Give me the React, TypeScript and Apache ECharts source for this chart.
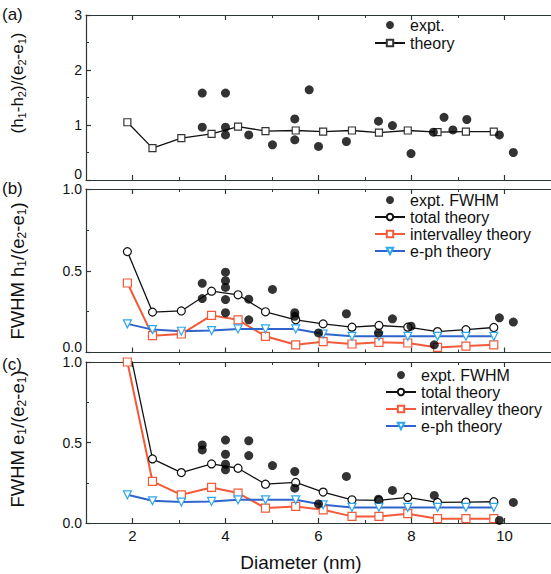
import React, { useEffect, useRef } from "react";
import * as echarts from "echarts";

// shared diameters of theory points (nm)
const theoryX = [1.89, 2.43, 3.05, 3.7, 4.27, 4.86, 5.51, 6.1, 6.72, 7.3, 7.92, 8.56, 9.17, 9.77];

// panel (a)
const ratioTheory = [1.05, 0.58, 0.76, 0.84, 0.97, 0.89, 0.9, 0.88, 0.9, 0.86, 0.9, 0.87, 0.88, 0.88];
const ratioExptX = [3.5, 3.5, 4, 4, 4, 4.5, 5.01, 5.49, 5.49, 5.8, 6, 6.6, 7.29, 7.59, 7.99, 8.47, 8.7, 8.89, 9.19, 9.89, 10.19];
const ratioExptY = [1.58, 0.96, 1.58, 0.96, 0.82, 0.82, 0.64, 1.11, 0.73, 1.64, 0.61, 0.7, 1.07, 0.99, 0.48, 0.87, 1.14, 0.91, 1.1, 0.82, 0.5];

// panel (b)
const hTotal = [0.617, 0.247, 0.254, 0.375, 0.353, 0.249, 0.2, 0.175, 0.155, 0.165, 0.155, 0.128, 0.14, 0.153];
const hInter = [0.425, 0.103, 0.113, 0.227, 0.2, 0.099, 0.047, 0.066, 0.052, 0.062, 0.058, 0.031, 0.039, 0.047];
const hEph = [0.175, 0.14, 0.13, 0.134, 0.144, 0.144, 0.144, 0.113, 0.099, 0.099, 0.099, 0.099, 0.099, 0.099];
const hExptX = [3.5, 3.5, 4, 4, 4, 4, 4, 4.5, 4.5, 5.01, 5.49, 5.49, 6, 6.6, 7.29, 7.59, 7.99, 8.49, 9.89, 10.19];
const hExptY = [0.423, 0.33, 0.491, 0.439, 0.398, 0.324, 0.243, 0.326, 0.2, 0.386, 0.243, 0.221, 0.12, 0.237, 0.12, 0.206, 0.161, 0.047, 0.212, 0.186];

// panel (c)
const eTotal = [1.14, 0.398, 0.313, 0.367, 0.34, 0.241, 0.252, 0.192, 0.144, 0.14, 0.159, 0.128, 0.13, 0.132];
const eInter = [1.0, 0.258, 0.175, 0.221, 0.186, 0.093, 0.103, 0.082, 0.041, 0.041, 0.058, 0.027, 0.027, 0.027];
const eEph = [0.175, 0.138, 0.13, 0.134, 0.144, 0.144, 0.144, 0.113, 0.097, 0.097, 0.097, 0.097, 0.097, 0.097];
const eExptX = [3.5, 3.5, 4, 4, 4, 4, 4.5, 4.5, 5.01, 5.49, 5.49, 6, 6.6, 7.29, 7.59, 8.49, 9.89, 10.19];
const eExptY = [0.485, 0.454, 0.515, 0.427, 0.365, 0.33, 0.511, 0.419, 0.357, 0.32, 0.216, 0.118, 0.289, 0.148, 0.202, 0.171, 0.016, 0.128];

const xMajorTicks = [2, 4, 6, 8, 10];
const xMinorTicks = [3, 5, 7, 9];
const panelLabels = ["(a)", "(b)", "(c)"];
const xTitle = "Diameter (nm)";
const legendA = ["expt.", "theory"];
const legendBC = ["expt. FWHM", "total theory", "intervalley theory", "e-ph theory"];

const FONT = "'Liberation Sans', Arial, Helvetica, sans-serif";
const AXIS = "#2d3535";
const RED = "#f25a3a";
const BLUE = "#3064cc";
const CYAN = "#2fa8ee";

const zip = (xs: number[], ys: number[]) => xs.map((x, i) => [x, ys[i]]);

export default function App() {
  const ref = useRef<HTMLDivElement>(null);
  useEffect(() => {
    document.body.style.margin = "0";
    const chart = echarts.init(ref.current!, null, { renderer: "svg" });

    const grids = [
      { left: 86, top: 15, width: 470, height: 165 },
      { left: 86, top: 189, width: 470, height: 163.5 },
      { left: 86, top: 362, width: 470, height: 161 },
    ];

    const xAxes: any[] = [];
    grids.forEach((_, i) => {
      const base = {
        gridIndex: i,
        type: "value",
        min: 1,
        max: 11,
        splitLine: { show: false },
      };
      xAxes.push({
        ...base,
        position: "bottom",
        axisLine: { show: true, onZero: false, lineStyle: { color: AXIS, width: 1.2 } },
        axisTick: { show: true, inside: true, length: 5, customValues: xMajorTicks, lineStyle: { color: AXIS, width: 1.2 } },
        axisLabel: {
          show: i === 2,
          customValues: xMajorTicks,
          margin: 5,
          fontSize: 15,
          color: "#111",
          fontFamily: FONT,
        },
      });
      xAxes.push({
        ...base,
        position: "top",
        axisLine: { show: true, onZero: false, lineStyle: { color: AXIS, width: 1.2 } },
        axisTick: { show: true, inside: true, length: 5, customValues: xMajorTicks, lineStyle: { color: AXIS, width: 1.2 } },
        axisLabel: { show: false },
      });
      xAxes.push({
        ...base,
        position: "bottom",
        axisLine: { show: false, onZero: false },
        axisTick: { show: true, inside: true, length: 3, customValues: xMinorTicks, lineStyle: { color: AXIS, width: 1 } },
        axisLabel: { show: false },
      });
      xAxes.push({
        ...base,
        position: "top",
        axisLine: { show: false, onZero: false },
        axisTick: { show: true, inside: true, length: 3, customValues: xMinorTicks, lineStyle: { color: AXIS, width: 1 } },
        axisLabel: { show: false },
      });
    });

    const yBase = (i: number, max: number, interval: number, fmt: (v: number) => string, liftMin: boolean) => ({
      gridIndex: i,
      type: "value",
      min: 0,
      max,
      interval,
      position: "left",
      splitLine: { show: false },
      axisLine: { show: true, onZero: false, lineStyle: { color: AXIS, width: 1.2 } },
      axisTick: { show: true, inside: true, length: 5, lineStyle: { color: AXIS, width: 1.2 } },
      minorTick: { show: true, splitNumber: 2, length: 3, lineStyle: { color: AXIS, width: 1 } },
      axisLabel: {
        margin: 4,
        fontSize: 14,
        lineHeight: 12,
        color: "#111",
        fontFamily: FONT,
        formatter: fmt,
        verticalAlignMinLabel: liftMin ? "bottom" : "middle",
      },
    });
    const yAxes = [
      yBase(0, 3, 1, (v) => String(v), true),
      yBase(1, 1, 0.5, (v) => v.toFixed(1), true),
      yBase(2, 1, 0.5, (v) => v.toFixed(1), false),
    ];

    const scatter = (name: string, idx: number, data: number[][]) => ({
      name,
      type: "scatter",
      xAxisIndex: idx * 4,
      yAxisIndex: idx,
      data,
      symbol: "circle",
      symbolSize: 9,
      itemStyle: { color: "#000" },
      z: 5,
    });
    const line = (
      name: string,
      idx: number,
      ys: number[],
      color: string,
      width: number,
      symbol: string,
      markColor: string,
      rotate = 0,
      size = 8
    ) => ({
      name,
      type: "line",
      xAxisIndex: idx * 4,
      yAxisIndex: idx,
      data: zip(theoryX, ys),
      symbol,
      symbolSize: size,
      symbolRotate: rotate,
      showAllSymbol: true,
      clip: true,
      lineStyle: { color, width },
      itemStyle: { color: "#fff", borderColor: markColor, borderWidth: 1.2 },
      z: 3,
    });

    const series = [
      line("theory", 0, ratioTheory, "#111", 1.3, "rect", "#333", 0, 7),
      scatter("expt.", 0, zip(ratioExptX, ratioExptY)),
      line("total theory", 1, hTotal, "#111", 1.3, "circle", "#111"),
      line("intervalley theory", 1, hInter, RED, 2, "rect", RED, 0, 8),
      line("e-ph theory", 1, hEph, BLUE, 2, "triangle", CYAN, 180, 8),
      scatter("expt. FWHM", 1, zip(hExptX, hExptY)),
      line("total theory", 2, eTotal, "#111", 1.3, "circle", "#111"),
      line("intervalley theory", 2, eInter, RED, 2, "rect", RED, 0, 8),
      line("e-ph theory", 2, eEph, BLUE, 2, "triangle", CYAN, 180, 8),
      scatter("expt. FWHM", 2, zip(eExptX, eExptY)),
    ];

    const legendBase = {
      orient: "vertical",
      itemWidth: 30,
      itemHeight: 8,
      itemGap: 1,
      padding: 0,
      selectedMode: false,
      textStyle: { fontSize: 16, lineHeight: 16, color: "#111", fontFamily: FONT },
    };
    const legends = [
      { ...legendBase, data: legendA, left: 374, top: 17, itemGap: 2 },
      { ...legendBase, data: legendBC, left: 374, top: 192 },
      { ...legendBase, data: legendBC, left: 385, top: 367 },
    ];

    const ttl = (y: number, parts: [string, boolean][], size: number, sub: number) => {
      const text = parts.map(([t, s]) => `{${s ? "s" : "m"}|${t}}`).join("");
      return {
        type: "text",
        x: 17,
        y,
        rotation: Math.PI / 2,
        style: {
          text,
          align: "center",
          verticalAlign: "middle",
          fill: "#111",
          fontFamily: FONT,
          rich: {
            m: { fontSize: size, lineHeight: size + 4, fontFamily: FONT, fill: "#111" },
            s: { fontSize: sub, lineHeight: sub, verticalAlign: "bottom", fontFamily: FONT, fill: "#111" },
          },
        },
      };
    };

    const graphic: any[] = [
      ttl(83, [["(h", false], ["1", true], ["-h", false], ["2", true], [")/(e", false], ["2", true], ["-e", false], ["1", true], [")", false]], 17, 11),
      ttl(271, [["FWHM h", false], ["1", true], ["/(e", false], ["2", true], ["-e", false], ["1", true], [")", false]], 18.5, 12),
      ttl(439, [["FWHM e", false], ["1", true], ["/(e", false], ["2", true], ["-e", false], ["1", true], [")", false]], 18.5, 12),
      ...panelLabels.map((t, i) => ({
        type: "text",
        left: 2,
        top: [6, 180, 356][i],
        style: { text: t, fontSize: 17, fontFamily: FONT, fill: "#111" },
      })),
      {
        type: "text",
        x: 301,
        y: 562,
        style: { text: xTitle, fontSize: 19, fontFamily: FONT, fill: "#111", align: "center", verticalAlign: "middle" },
      },
    ];

    chart.setOption({
      animation: false,
      backgroundColor: "#fff",
      grid: grids,
      xAxis: xAxes,
      yAxis: yAxes,
      legend: legends,
      series,
      graphic,
    });
    return () => chart.dispose();
  }, []);
  return <div ref={ref} style={{ width: 551, height: 574, position: "absolute", left: 0, top: 0 }} />;
}
